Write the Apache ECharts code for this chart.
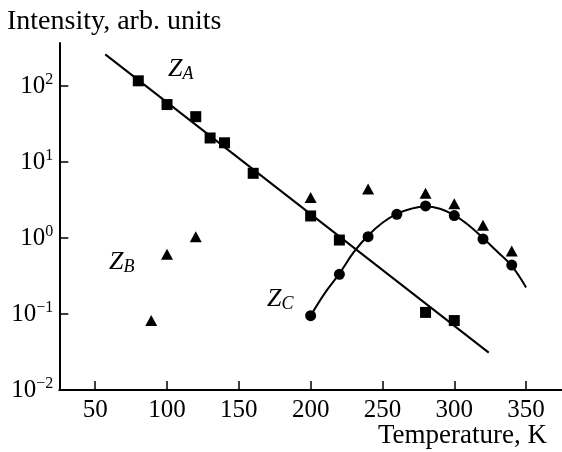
<!DOCTYPE html>
<html>
<head>
<meta charset="utf-8">
<script src="https://cdn.jsdelivr.net/npm/echarts@6/dist/echarts.min.js"></script>
<style>
  html, body { margin: 0; padding: 0; background: #fff; }
  #chart { width: 562px; height: 452px; }
</style>
</head>
<body>
<div id="chart"></div>
<script>
// Temperature ticks (K) and intensity decades
const xTicks = [50, 100, 150, 200, 250, 300, 350];
const yTicks = [0.01, 0.1, 1, 10, 100];

// Z_A: measured points (squares) and straight fit on the log scale
const zaPoints = [[80, 117], [100, 57], [120, 39.5], [130, 20.7], [140, 17.9], [160, 7.1], [200, 1.95], [220, 0.94], [280, 0.105], [300, 0.082]];
const zaFit = [[57, 261], [324, 0.031]];

// Z_B: triangles
const zbPoints = [[89, 0.082], [100, 0.61], [120, 1.04], [200, 3.4], [240, 4.42], [280, 3.87], [300, 2.83], [320, 1.47], [340, 0.675]];

// Z_C: circles and the smooth curve through them
const zcPoints = [[200, 0.095], [220, 0.333], [240, 1.04], [260, 2.05], [280, 2.64], [300, 1.97], [320, 0.97], [340, 0.44]];
const zcCurve = [[200, 0.095], [210, 0.19], [220, 0.34], [230, 0.65], [240, 1.08], [250, 1.59], [260, 2.08], [270, 2.43], [280, 2.6], [290, 2.43], [300, 2.0], [310, 1.47], [320, 1.0], [330, 0.66], [340, 0.43], [350, 0.224]];

const serif = '"Liberation Serif", "DejaVu Serif", serif';
const ink = '#000';

function supLabel(v) {
  const e = Math.round(Math.log10(v));
  const exp = e < 0 ? '\u2212' + (-e) : String(e);
  return '{b|10}{s|' + exp + '}';
}

// italic Z with subscript letter
function zLabel(letter, left, top) {
  return {
    type: 'text', left: left, top: top,
    style: {
      text: '{z|Z}{sub|' + letter + '}',
      rich: {
        z: { fontFamily: serif, fontStyle: 'italic', fontSize: 26, fill: ink },
        sub: { fontFamily: serif, fontStyle: 'italic', fontSize: 18, fill: ink, verticalAlign: 'bottom', padding: [10, 0, 0, 0] }
      }
    }
  };
}

const chart = echarts.init(document.getElementById('chart'), null, { renderer: 'canvas' });

chart.setOption({
  animation: false,
  backgroundColor: '#fff',
  grid: { left: 59.3, top: 43, width: 504, height: 347, containLabel: false },
  xAxis: {
    type: 'value',
    min: 25,
    max: 375,
    axisLine: { show: true, lineStyle: { color: ink, width: 2 } },
    axisTick: { show: true, inside: true, length: 9, lineStyle: { color: ink, width: 1.5 }, customValues: xTicks },
    axisLabel: { show: true, customValues: xTicks, color: ink, fontFamily: serif, fontSize: 25, margin: 8 },
    splitLine: { show: false }
  },
  yAxis: {
    type: 'log',
    logBase: 10,
    min: 0.01,
    max: 368,
    axisLine: { show: true, lineStyle: { color: ink, width: 2 } },
    axisTick: { show: true, inside: true, length: 9, lineStyle: { color: ink, width: 1.5 }, customValues: yTicks },
    axisLabel: {
      show: true,
      customValues: yTicks,
      margin: 6,
      formatter: supLabel,
      rich: {
        b: { fontFamily: serif, fontSize: 25, color: ink },
        s: { fontFamily: serif, fontSize: 16, color: ink, verticalAlign: 'top', padding: [0, 0, 12, 0] }
      }
    },
    splitLine: { show: false }
  },
  series: [
    {
      name: 'Z_A fit', type: 'line', data: zaFit, symbol: 'none',
      lineStyle: { color: ink, width: 2 }, silent: true, z: 2
    },
    {
      name: 'Z_C fit', type: 'line', data: zcCurve, symbol: 'none', smooth: 0.4,
      lineStyle: { color: ink, width: 2 }, silent: true, z: 2
    },
    {
      name: 'Z_A', type: 'scatter', data: zaPoints, symbol: 'rect', symbolSize: 11,
      itemStyle: { color: ink, opacity: 1 }, z: 3
    },
    {
      name: 'Z_B', type: 'scatter', data: zbPoints, symbol: 'triangle', symbolSize: [12, 11],
      itemStyle: { color: ink, opacity: 1 }, z: 3
    },
    {
      name: 'Z_C', type: 'scatter', data: zcPoints, symbol: 'circle', symbolSize: 11,
      itemStyle: { color: ink, opacity: 1 }, z: 3
    }
  ],
  graphic: [
    {
      type: 'text', left: 7, top: 8,
      style: { text: 'Intensity, arb. units', fill: ink, font: '28px ' + serif }
    },
    {
      type: 'text', right: 15, top: 422,
      style: { text: 'Temperature, K', fill: ink, font: '27px ' + serif }
    },
    zLabel('A', 168, 56),
    zLabel('B', 109, 249),
    zLabel('C', 267, 286)
  ]
});
</script>
</body>
</html>
